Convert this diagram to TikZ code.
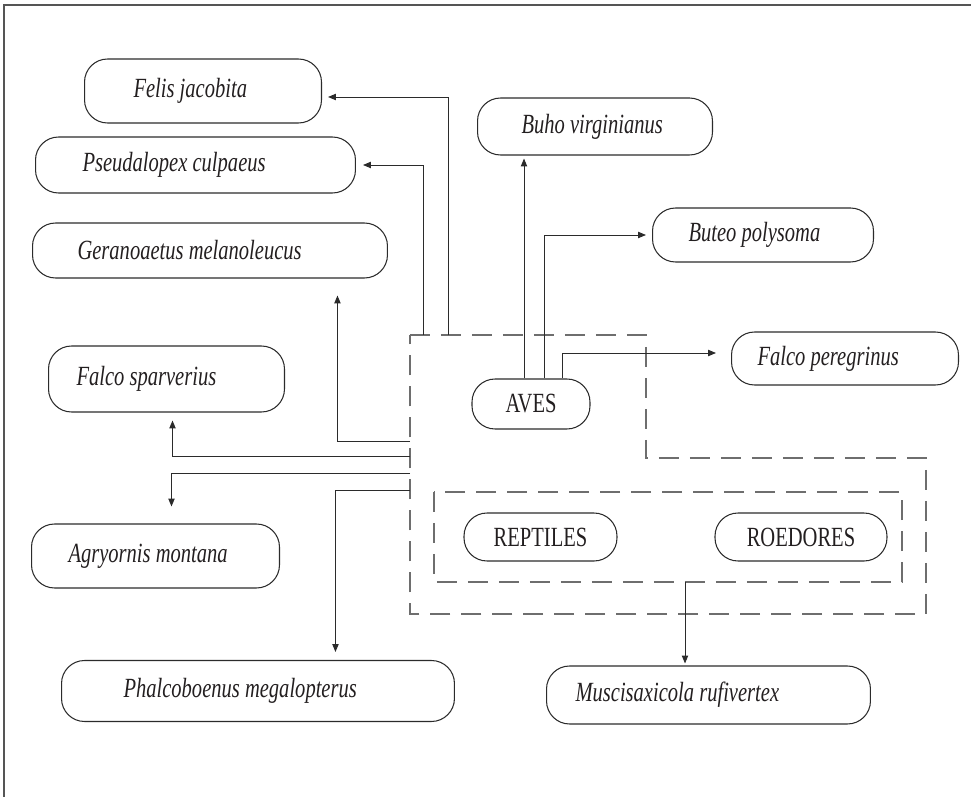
\documentclass[tikz,border=0pt]{standalone}
\usepackage{fontspec}
\setmainfont{Liberation Serif}[FakeStretch=0.74]
\usetikzlibrary{arrows.meta,calc}

\definecolor{ink}{HTML}{231F20}
\definecolor{edge}{HTML}{2B2B2B}
\definecolor{dash}{HTML}{6E6E6E}
\definecolor{rule}{HTML}{555555}

% left-aligned label set inside a box of fixed width, with a left indent
\newcommand{\spx}[3]{\makebox[#1][l]{\hspace*{#2}\textit{#3}}}

\begin{document}
\begin{tikzpicture}[
  x=0.02cm, y=-0.02cm,
  font=\fontsize{15.8}{18}\selectfont,
  sp/.style={draw=edge, line width=0.6pt, rounded corners=0.46cm,
    inner xsep=0pt, inner ysep=0pt, anchor=west, text=ink},
  grp/.style={draw=edge, line width=0.6pt, rounded corners=0.46cm,
    inner xsep=0pt, inner ysep=0pt, text=ink},
  arr/.style={draw=edge, line width=0.55pt,
    -{Triangle[length=4.5pt,width=3.6pt]}},
  region/.style={draw=dash, line width=0.9pt, dash pattern=on 0.4cm off 0.22cm},
  frame/.style={draw=rule, line width=0.9pt}
]
\useasboundingbox (0,0) rectangle (971,797);

% page frame (top and left rules)
\coordinate (fr1) at (4,797);
\coordinate (fr2) at (4,5);
\coordinate (fr3) at (971,5);
\draw[frame] (fr1) -- (fr2) -- (fr3);

% species boxes
\node[sp, minimum height=1.28cm] (felis)  at (84,91)    {\spx{4.74cm}{0.98cm}{Felis jacobita}};
\node[sp, minimum height=1.14cm] (buho)   at (477,126.5){\spx{4.70cm}{0.88cm}{Buho virginianus}};
\node[sp, minimum height=1.12cm] (pseud)  at (35,165)   {\spx{6.40cm}{0.94cm}{Pseudalopex culpaeus}};
\node[sp, minimum height=1.08cm] (buteo)  at (652,235)  {\spx{4.42cm}{0.72cm}{Buteo polysoma}};
\node[sp, minimum height=1.10cm] (geran)  at (32,250.5) {\spx{7.10cm}{0.90cm}{Geranoaetus melanoleucus}};
\node[sp, minimum height=1.06cm] (falcop) at (731,358.5){\spx{4.54cm}{0.52cm}{Falco peregrinus}};
\node[sp, minimum height=1.32cm] (falcos) at (48,379)   {\spx{4.72cm}{0.56cm}{Falco sparverius}};
\node[sp, minimum height=1.28cm] (agry)   at (31,556)   {\spx{4.96cm}{0.74cm}{Agryornis montana}};
\node[sp, minimum height=1.22cm] (phalc)  at (61,691)   {\spx{7.86cm}{1.24cm}{Phalcoboenus megalopterus}};
\node[sp, minimum height=1.16cm] (musc)   at (546,695)  {\spx{6.48cm}{0.58cm}{Muscisaxicola rufivertex}};

% prey groups
\node[grp, minimum width=2.36cm, minimum height=1.00cm] (aves) at (531,404)   {AVES};
\node[grp, minimum width=3.06cm, minimum height=0.96cm] (rept) at (540.5,537) {REPTILES};
\node[grp, minimum width=3.44cm, minimum height=0.96cm] (roed) at (801,537)   {ROEDORES};

% dashed outlines of the prey groups
\coordinate (o1) at (410,335);
\coordinate (o2) at (646,335);
\coordinate (o3) at (646,458);
\coordinate (o4) at (926,458);
\coordinate (o5) at (926,614);
\coordinate (o6) at (410,614);
\draw[region] (o1) -- (o2) -- (o3) -- (o4) -- (o5) -- (o6) -- cycle;
\coordinate (i1) at (434,492);
\coordinate (i2) at (902,582);
\draw[region] (i1) rectangle (i2);

% attachment points on the outlines
\coordinate (fT) at (448,335);
\coordinate (cT) at (423,335);
\coordinate (gL) at (410,441);
\coordinate (sL) at (410,456);
\coordinate (aL) at (410,473);
\coordinate (pL) at (410,490);
\coordinate (iB) at (685,582);

% predator links
\draw[arr, shorten >=0.12cm] (fT) |- ([yshift=-0.12cm]felis.east);
\draw[arr, shorten >=0.14cm] (cT) |- (pseud.east);
\draw[arr, shorten >=0.34cm] (gL) -| ([xshift=2.55cm]geran.south);
\draw[arr, shorten >=0.16cm] (sL) -| ([xshift=0.12cm]falcos.south);
\draw[arr, shorten >=0.34cm] (aL) -| ([xshift=0.32cm]agry.north);
\draw[arr, shorten >=0.16cm] (pL) -| ([xshift=1.55cm]phalc.north);
\draw[arr, shorten >=0.06cm] ([xshift=-0.14cm]aves.north) -- ([xshift=-0.14cm]aves.north |- buho.south);
\draw[arr, shorten >=0.12cm] ([xshift=0.26cm]aves.north) |- (buteo.west);
\draw[arr, shorten >=0.30cm] ([xshift=0.62cm]aves.north) |- ([yshift=0.11cm]falcop.west);
\draw[arr, shorten >=0.04cm] (iB) -- (iB |- musc.north);
\end{tikzpicture}
\end{document}
